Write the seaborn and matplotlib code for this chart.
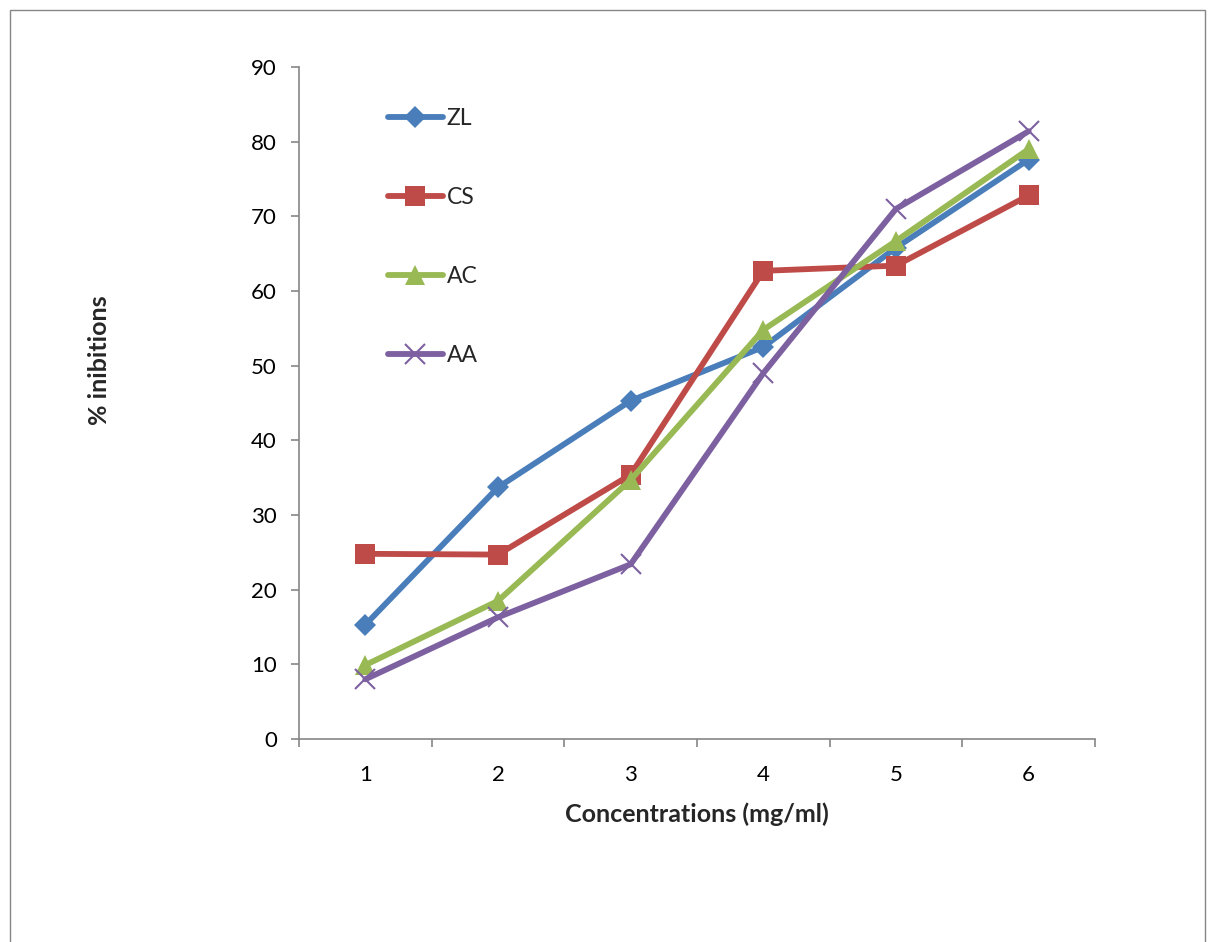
import numpy as np
import pandas as pd
import seaborn as sns
import matplotlib
matplotlib.use("Agg")
import matplotlib.pyplot as plt
from matplotlib.patches import Rectangle

concentrations = [1, 2, 3, 4, 5, 6]
series_names = ["ZL", "CS", "AC", "AA"]
zl = [15.3, 33.7, 45.3, 52.5, 65.8, 77.6]
cs = [24.8, 24.7, 35.4, 62.7, 63.4, 72.8]
ac = [9.9, 18.5, 34.7, 54.8, 66.7, 79.0]
aa = [8.0, 16.3, 23.4, 49.0, 71.0, 81.4]
colors = ["#4A7EBB", "#BE4B48", "#98B954", "#7D60A0"]
markers = ["D", "s", "^", "x"]
y_ticks = [0, 10, 20, 30, 40, 50, 60, 70, 80, 90]

sns.set_theme(style="white")
plt.rcParams['font.family'] = ['Lato', 'DejaVu Sans']

values = [zl, cs, ac, aa]

fig = plt.figure(figsize=(12.15, 9.42), dpi=100)
ax = fig.add_axes([299 / 1215, 1 - 739 / 942, (1095 - 299) / 1215, (739 - 67) / 942])

msizes = {"D": 11.5, "s": 14, "^": 14, "x": 15}
LW = 4.2
for name, vals, c, m in zip(series_names, values, colors, markers):
    d = pd.DataFrame({"conc": concentrations, "value": vals})
    kw = dict(markeredgewidth=0) if m != "x" else dict(markeredgewidth=1.5, markeredgecolor=c)
    sns.lineplot(data=d, x="conc", y="value", color=c, marker=m, markersize=msizes[m],
                 linewidth=LW, ax=ax, label=name, legend=False, **kw)

ax.set_xlim(0.5, 6.5)
ax.set_ylim(0, 90)
ax.set_yticks(y_ticks)
ax.set_xticks(concentrations)
ax.set_xticks(np.arange(0.5, 7.0, 1.0), minor=True)
ax.tick_params(axis="x", which="major", length=0, labelsize=16, pad=19, colors="black")
ax.tick_params(axis="x", which="minor", length=6, width=1.2, color="#868686", direction="out", bottom=True)
ax.tick_params(axis="y", which="major", length=6, width=1.2, color="#868686", direction="out", left=True,
               labelsize=16, pad=10, labelcolor="black")
for s in ["top", "right"]:
    ax.spines[s].set_visible(False)
for s in ["left", "bottom"]:
    ax.spines[s].set_color("#868686")
    ax.spines[s].set_linewidth(1.2)

ax.set_xlabel("Concentrations (mg/ml)", fontsize=18, fontweight="bold")
ax.set_ylabel("% inibitions", fontsize=18, fontweight="bold")
ax.xaxis.set_label_coords(0.5, -0.0938)
ax.yaxis.set_label_coords(-0.236, 0.564)

handles = [plt.Line2D([], [], color=c, marker=m, linewidth=LW,
                      markersize=msizes[m], markeredgewidth=(1.5 if m == "x" else 0),
                      markeredgecolor=c)
           for c, m in zip(colors, markers)]
leg = ax.legend(handles, series_names, loc="upper left", bbox_to_anchor=(0.0858, 0.969),
                frameon=False, fontsize=16.5, labelspacing=2.52, handlelength=2.4, handletextpad=0.17)

fig.patches.append(Rectangle((10 / 1215, -0.05), (1205 - 10) / 1215, 1.05 - 10 / 942,
                             transform=fig.transFigure, fill=False, edgecolor="#868686",
                             linewidth=1.0, zorder=0))

fig.savefig("out.png", dpi=100)
